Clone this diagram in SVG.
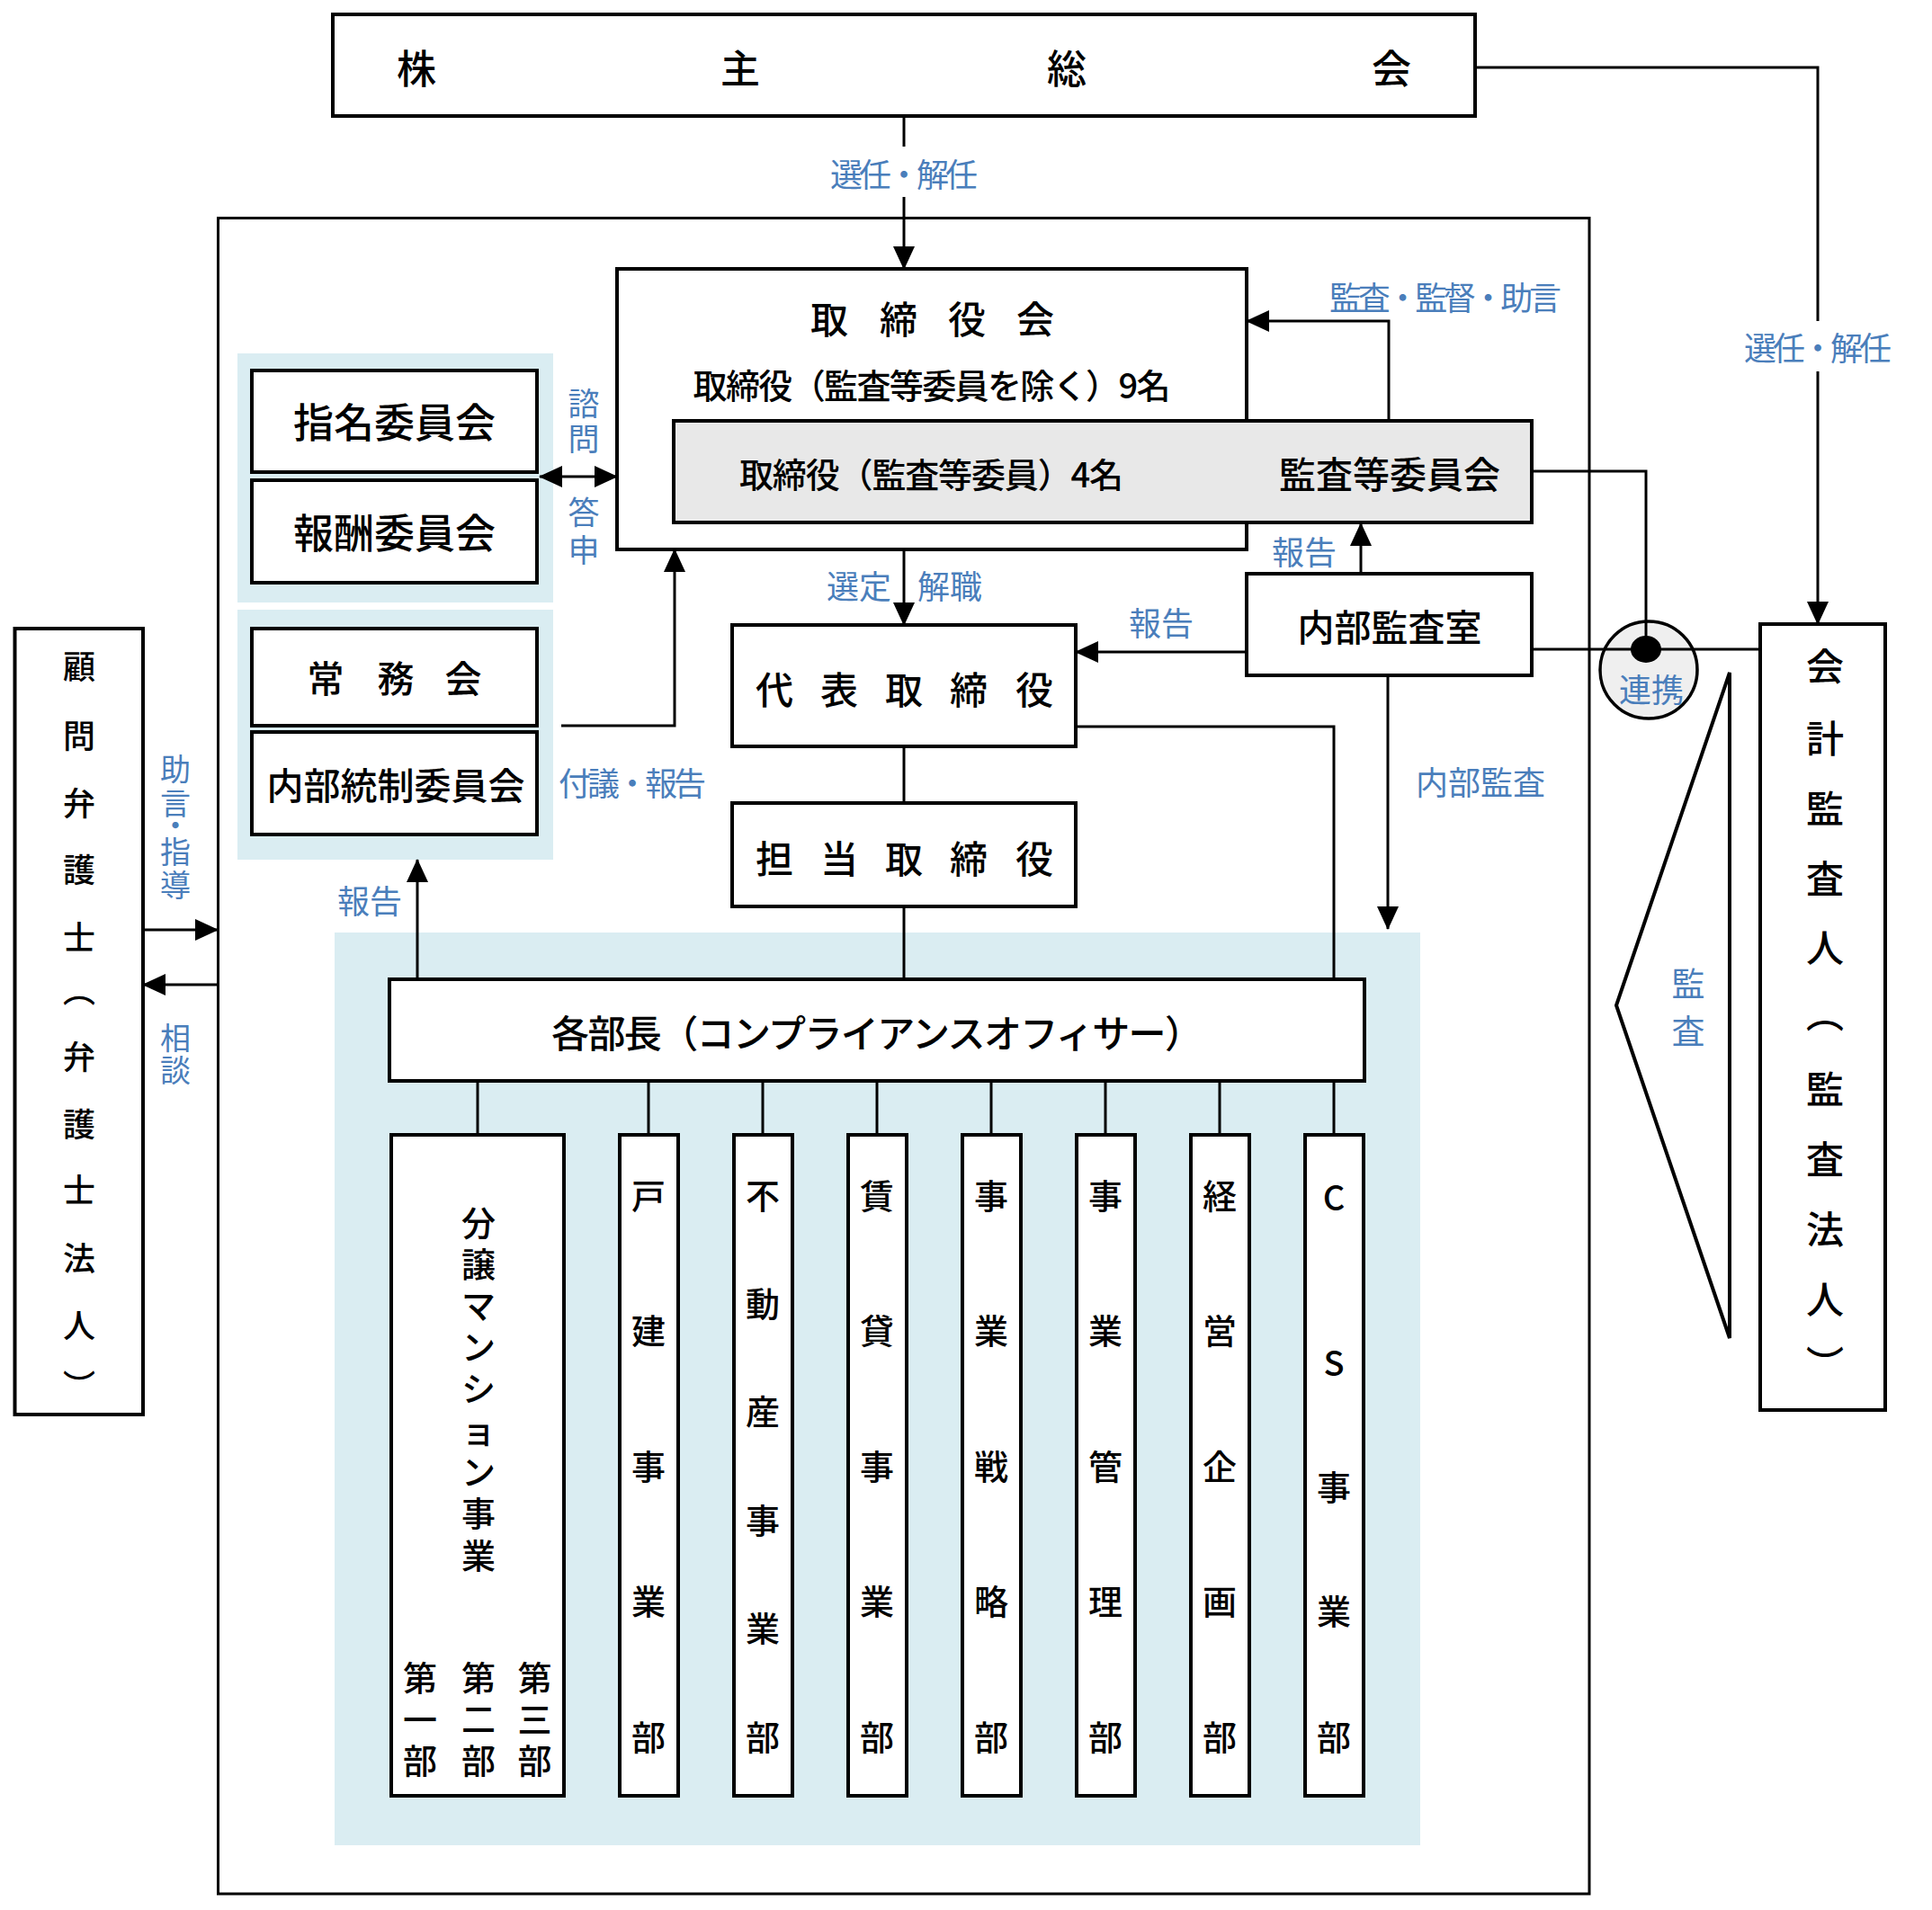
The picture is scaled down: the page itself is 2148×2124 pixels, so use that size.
<svg xmlns="http://www.w3.org/2000/svg" width="2148" height="2124" viewBox="0 0 2148 2124">
<style>
text{font-family:"Noto Sans CJK JP","Noto Sans",sans-serif;dominant-baseline:central;text-anchor:middle;fill:#000;font-weight:500}
.lb text{fill:#4a7ebb;font-weight:400}
.box{fill:#fff;stroke:#000;stroke-width:4}
.ln{fill:none;stroke:#000;stroke-width:3}
.ar{marker-end:url(#ah)}
.region{fill:#daedf2}
.vt{writing-mode:vertical-rl}
.dep{font-size:38px}
</style>
<defs>
<marker id="ah" markerUnits="userSpaceOnUse" markerWidth="26" markerHeight="24" refX="25" refY="12" orient="auto-start-reverse" viewBox="0 0 26 24"><path d="M0,0 L26,12 L0,24 z" fill="#000"/></marker>
</defs>
<rect width="2148" height="2124" fill="#fff"/>
<g id="company-frame"><rect x="242.5" y="242.5" width="1524.5" height="1863.5" fill="none" stroke="#000" stroke-width="3"/></g>
<g id="committee-area-1"><rect class="region" x="264" y="393" width="351" height="277"/></g>
<g id="committee-area-2"><rect class="region" x="264" y="678" width="351" height="278"/></g>
<g id="department-area"><rect class="region" x="372" y="1037" width="1207" height="1015"/></g>

<g id="shareholders"><rect class="box" x="370" y="16" width="1270" height="113"/><text x="463 823 1186 1547" y="74" style="font-size:44px">株主総会</text></g>
<g id="board"><rect class="box" x="686" y="299" width="700" height="312"/><text x="922 999 1075 1151" y="352" style="font-size:42px">取締役会</text><text x="1036" y="426" style="font-size:38px" textLength="531">取締役（監査等委員を除く）9名</text></g>
<g id="audit-committee"><rect x="749" y="468" width="954" height="113" fill="#e8e8e8" stroke="#000" stroke-width="4"/><text x="822" y="525" style="font-size:38px;text-anchor:start" textLength="427">取締役（監査等委員）4名</text><text x="1545" y="525" style="font-size:41px">監査等委員会</text></g>
<g id="nomination"><rect class="box" x="280" y="412" width="317" height="113"/><text x="438.5" y="467" style="font-size:45px">指名委員会</text></g>
<g id="remuneration"><rect class="box" x="280" y="534" width="317" height="114"/><text x="438.5" y="590" style="font-size:45px">報酬委員会</text></g>
<g id="executive"><rect class="box" x="280" y="699" width="317" height="108"/><text x="362 440 515" y="752" style="font-size:41px">常務会</text></g>
<g id="internal-control"><rect class="box" x="280" y="814" width="317" height="114"/><text x="440" y="871" style="font-size:41px">内部統制委員会</text></g>
<g id="representative"><rect class="box" x="814" y="695" width="382" height="135"/><text x="861 933 1005 1077 1150" y="764" style="font-size:42px">代表取締役</text></g>
<g id="director-in-charge"><rect class="box" x="814" y="893" width="382" height="115"/><text x="861 933 1005 1077 1150" y="952" style="font-size:42px">担当取締役</text></g>
<g id="internal-audit"><rect class="box" x="1386" y="638" width="317" height="113"/><text x="1545" y="695" style="font-size:41px">内部監査室</text></g>
<g id="managers"><rect class="box" x="433" y="1089" width="1084" height="113"/><text x="975" y="1146" style="font-size:42px" textLength="724">各部長（コンプライアンスオフィサー）</text></g>
<g id="accounting-auditor"><rect class="box" x="1957" y="694" width="139" height="874"/><text class="vt" x="2029" y="741 821 899 977 1054 1127 1211 1289 1367 1445 1517" style="font-size:42px">会計監査人（監査法人）</text></g>
<g id="legal-counsel"><rect class="box" x="16.5" y="699" width="142.5" height="874"/><text class="vt" x="88" y="741 818 893 967 1042 1101 1175 1250 1323 1399 1474 1541" style="font-size:36px">顧問弁護士（弁護士法人）</text></g>
<g id="cooperation"><circle cx="1833" cy="745" r="54" fill="#efefef" stroke="#000" stroke-width="3.5"/></g>
<g id="audit-wedge"><polygon points="1923,748 1797,1118 1923,1488" fill="none" stroke="#000" stroke-width="4"/></g>

<g id="dept-condo"><rect class="box" x="435" y="1262" width="192" height="735"/><text class="dep" x="532 532 532 532 532 532 532 532 532" y="1357 1403 1449 1495 1541 1588 1634 1680 1727">分譲マンション事業</text><text class="dep" x="467 467 467" y="1863 1909 1955">第一部</text><text class="dep" x="532 532 532" y="1863 1909 1955">第二部</text><text class="dep" x="594.5 594.5 594.5" y="1863 1909 1955">第三部</text></g>
<g id="dept-house"><rect class="box" x="689" y="1262" width="65" height="735"/><text class="dep" x="721 721 721 721 721" y="1327 1477.5 1628 1778.5 1929">戸建事業部</text></g>
<g id="dept-realestate"><rect class="box" x="816" y="1262" width="65" height="735"/><text class="dep" x="848 848 848 848 848 848" y="1327 1447.4 1567.8 1688.2 1808.6 1929">不動産事業部</text></g>
<g id="dept-rental"><rect class="box" x="943" y="1262" width="65" height="735"/><text class="dep" x="975 975 975 975 975" y="1327 1477.5 1628 1778.5 1929">賃貸事業部</text></g>
<g id="dept-strategy"><rect class="box" x="1070" y="1262" width="65" height="735"/><text class="dep" x="1102 1102 1102 1102 1102" y="1327 1477.5 1628 1778.5 1929">事業戦略部</text></g>
<g id="dept-management"><rect class="box" x="1197" y="1262" width="65" height="735"/><text class="dep" x="1229 1229 1229 1229 1229" y="1327 1477.5 1628 1778.5 1929">事業管理部</text></g>
<g id="dept-planning"><rect class="box" x="1324" y="1262" width="65" height="735"/><text class="dep" x="1356 1356 1356 1356 1356" y="1327 1477.5 1628 1778.5 1929">経営企画部</text></g>
<g id="dept-cs"><rect class="box" x="1451" y="1262" width="65" height="735"/><text class="dep" x="1483 1483 1483 1483 1483" y="1329 1513 1651 1789 1929">CS事業部</text></g>

<g id="connectors" class="ln">
<path d="M1005,129 V163"/>
<path class="ar" d="M1005,219 V299"/>
<path d="M1640,75 H2021 V357"/>
<path class="ar" d="M2021,413 V694"/>
<path class="ar" d="M1544,468 V357 H1386"/>
<path d="M1703,524 H1830 V722"/>
<path d="M1703,722 H1957"/>
<path class="ar" d="M1513,638 V582"/>
<path class="ar" d="M1386,725 H1196"/>
<path class="ar" d="M1543,751 V1033"/>
<path class="ar" d="M1005,611 V695"/>
<path d="M1005,830 V893"/>
<path d="M1005,1008 V1089"/>
<path d="M1196,808 H1483 V1089"/>
<path class="ar" d="M464,1089 V956"/>
<path class="ar" d="M624,807 H750 V611"/>
<path class="ar" style="marker-start:url(#ah)" d="M600,530 H686"/>
<path class="ar" d="M159,1034 H242"/>
<path class="ar" d="M242,1095 H159"/>
<path d="M531,1202 V1262 M721,1202 V1262 M848,1202 V1262 M975,1202 V1262 M1102,1202 V1262 M1229,1202 V1262 M1356,1202 V1262 M1483,1202 V1262"/>
<ellipse cx="1830" cy="722" rx="17" ry="15" style="fill:#000;stroke:none"/>
</g>

<g id="labels" class="lb">
<text x="1005" y="192" style="font-size:36px" textLength="164">選任・解任</text>
<text x="2021" y="385" style="font-size:36px" textLength="164">選任・解任</text>
<text x="1607" y="329" style="font-size:36px" textLength="258">監査・監督・助言</text>
<text x="703" y="869" style="font-size:36px" textLength="164">付議・報告</text>
<text x="1450" y="612" style="font-size:36px">報告</text>
<text x="1291" y="691" style="font-size:36px">報告</text>
<text x="411" y="1000" style="font-size:36px">報告</text>
<text x="1646" y="868" style="font-size:36px">内部監査</text>
<text x="955" y="650" style="font-size:36px">選定</text>
<text x="1056" y="650" style="font-size:36px">解職</text>
<text x="1836" y="765" style="font-size:36px">連携</text>
<text x="649 649" y="446 485" style="font-size:35px">諮問</text>
<text x="649 649" y="567 609" style="font-size:35px">答申</text>
<text x="195 195 195 195 195" y="853 891 916 945 982" style="font-size:34px">助言・指導</text>
<text x="195 195" y="1152 1188" style="font-size:34px">相談</text>
<text x="1877 1877" y="1092 1145" style="font-size:37px">監査</text>
</g>
</svg>
